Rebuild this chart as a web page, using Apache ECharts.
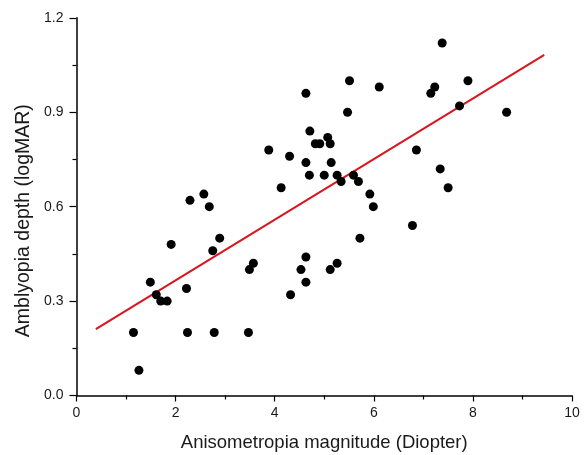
<!DOCTYPE html>
<html>
<head>
<meta charset="utf-8">
<script src="https://cdn.jsdelivr.net/npm/echarts@6/dist/echarts.min.js"></script>
<style>
html,body{margin:0;padding:0;background:#fff;}
#chart{width:586px;height:455px;}
</style>
</head>
<body>
<div id="chart"></div>
<script>
// Anisometropia magnitude (Diopter)
const xValues = [1.15,1.26,1.49,1.61,1.70,1.83,1.91,2.22,2.24,2.29,2.57,2.68,2.75,2.89,2.78,3.47,3.49,3.57,
  3.88,4.13,4.30,4.32,4.53,4.63,4.63,4.63,4.63,4.71,4.70,4.82,4.91,5.00,5.07,5.12,5.12,5.14,5.26,5.26,5.34,5.47,5.51,5.59,5.69,5.72,5.92,5.99,6.11,
  6.78,6.86,7.15,7.23,7.34,7.38,7.50,7.73,7.90,8.68];
// Amblyopia depth (logMAR)
const yValues = [0.20,0.08,0.36,0.32,0.30,0.30,0.48,0.34,0.20,0.62,0.64,0.60,0.46,0.50,0.20,0.20,0.40,0.42,
  0.78,0.66,0.76,0.32,0.40,0.96,0.74,0.44,0.36,0.84,0.70,0.80,0.80,0.70,0.82,0.80,0.40,0.74,0.70,0.42,0.68,0.90,1.00,0.70,0.68,0.50,0.64,0.60,0.98,
  0.54,0.78,0.96,0.98,0.72,1.12,0.66,0.92,1.00,0.90];
// Fitted regression line end points
const fitX = [0.39, 9.44];
const fitY = [0.211, 1.082];
const xTicks = [0,2,4,6,8,10];
const yTicks = [0.0,0.3,0.6,0.9,1.2];

const points = xValues.map((x,i)=>[x,yValues[i]]);
const fitLine = fitX.map((x,i)=>[x,fitY[i]]);

const chart = echarts.init(document.getElementById('chart'));
const font = 'Liberation Sans, Arial, sans-serif';
chart.setOption({
  animation:false,
  backgroundColor:'#fff',
  grid:{left:76.5,right:14,top:17.8,bottom:59.5,containLabel:false,outerBoundsMode:'none'},
  xAxis:{
    type:'value',min:xTicks[0],max:xTicks[xTicks.length-1],interval:2,
    name:'Anisometropia magnitude (Diopter)',nameLocation:'middle',nameGap:38,
    nameTextStyle:{fontFamily:font,fontSize:18.5,color:'#1a1a1a'},
    axisLine:{show:true,onZero:false,lineStyle:{color:'#000',width:1.5}},
    axisTick:{show:true,inside:false,length:6,lineStyle:{color:'#000',width:1.2}},
    minorTick:{show:true,splitNumber:2,length:4,lineStyle:{color:'#000',width:1.2}},
    splitLine:{show:false},
    axisLabel:{fontFamily:font,fontSize:14,color:'#1a1a1a',margin:11}
  },
  yAxis:{
    type:'value',min:yTicks[0],max:yTicks[yTicks.length-1],interval:0.3,
    name:'Amblyopia depth (logMAR)',nameLocation:'middle',nameGap:40,nameRotate:90,
    nameTextStyle:{fontFamily:font,fontSize:19.5,color:'#1a1a1a',padding:[0,28,0,0]},
    axisLine:{show:true,onZero:false,lineStyle:{color:'#000',width:1.5}},
    axisTick:{show:true,inside:false,length:7,lineStyle:{color:'#000',width:1.2}},
    minorTick:{show:true,splitNumber:2,length:4,lineStyle:{color:'#000',width:1.2}},
    splitLine:{show:false},
    axisLabel:{fontFamily:font,fontSize:14,color:'#1a1a1a',margin:13,formatter:v=>v.toFixed(1)}
  },
  series:[
    {type:'line',data:fitLine,symbol:'none',lineStyle:{color:'#d9151f',width:2},z:1},
    {type:'scatter',data:points,symbol:'circle',symbolSize:9,itemStyle:{color:'#000',opacity:1},z:2}
  ]
});
</script>
</body>
</html>
